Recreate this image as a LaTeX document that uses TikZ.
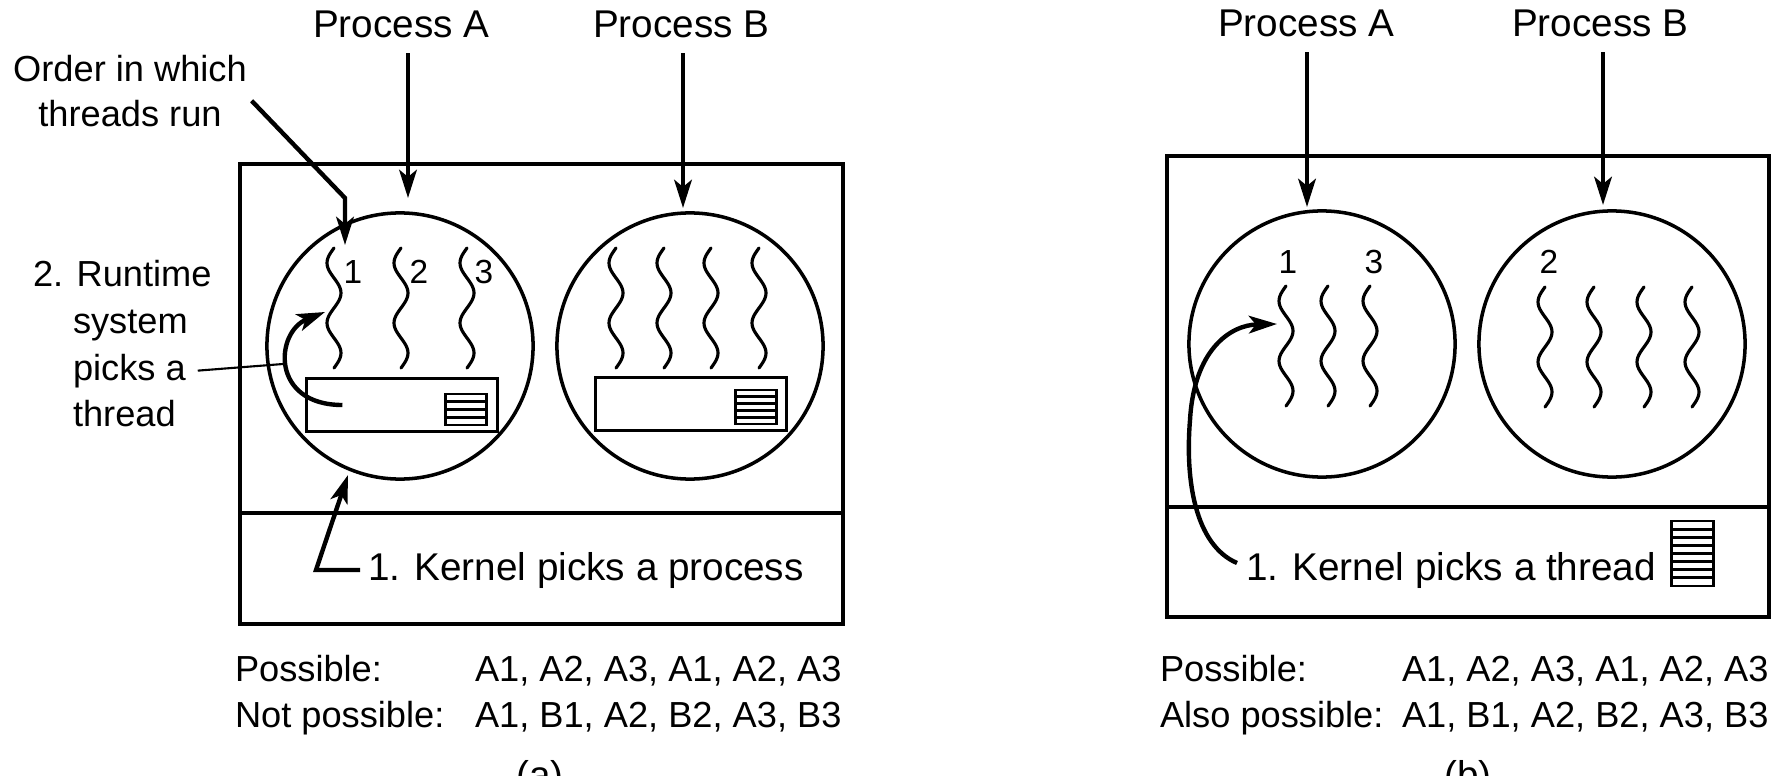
\documentclass[tikz,border=0pt]{standalone}
\usepackage{fontspec}
\setmainfont{Liberation Sans}
\usetikzlibrary{arrows.meta,calc}
\newcommand\fsBig{\fontsize{11pt}{13pt}\selectfont}
\newcommand\fsMid{\fontsize{10.3pt}{12.5pt}\selectfont}
\newcommand\fsNum{\fontsize{9.5pt}{11pt}\selectfont}
\newcommand\drawthread[2]{\draw[thr] plot[domain=0:120,samples=49,smooth] ({#1-7*sin(6*\x)},{#2+\x});}
\begin{document}
\begin{tikzpicture}[x=0.01cm,y=-0.01cm,
  txt/.style={inner sep=0pt, outer sep=0pt, font=\fsBig},
  mid/.style={inner sep=0pt, outer sep=0pt, font=\fsMid},
  num/.style={inner sep=0pt, outer sep=0pt, font=\fsNum, anchor=base},
  proc/.style={circle, draw, line width=1pt, minimum size=2.66cm, inner sep=0pt, outer sep=0pt},
  frame/.style={draw, line width=0.95pt},
  rts/.style={draw, line width=0.95pt, minimum width=1.91cm, minimum height=0.53cm, inner sep=0pt, outer sep=0pt},
  icon/.style={line width=0.85pt},
  arr/.style={line width=1.25pt, -{Stealth[length=8pt,width=5pt,inset=2pt]}},
  thr/.style={line width=0.9pt, line cap=round},
  pointer/.style={line width=0.6pt},
]
\useasboundingbox (0,0) rectangle (1788,776);

% ================= (a) =================
\draw[frame] (240,164) rectangle (843,624);
\draw[frame] (240,513) -- (843,513);
\node[proc] (cA1) at (400,346) {};
\node[proc] (cB1) at (690,346) {};
\node[rts] (bxA1) at (402,405) {};
\node[rts] (bxB1) at (691,404) {};
% run-time tables
\draw[icon] (445,394) rectangle (486,425);
\foreach \k in {1,2,3} \draw[icon] (445,{394+\k*31/4}) -- (486,{394+\k*31/4});
\draw[icon] (735,390) rectangle (776,424);
\foreach \k in {1,2,3,4} \draw[icon] (735,{390+\k*34/5}) -- (776,{390+\k*34/5});
% threads
\foreach \xc in {334,401,467} {\drawthread{\xc}{248}}
\foreach \xc in {616,664,711,759} {\drawthread{\xc}{248}}
\node[num] (na1) at (353,283) {1};
\node[num] (na2) at (419,283) {2};
\node[num] (na3) at (484,283) {3};
% process labels
\node[txt, anchor=base west] (pa1) at (313,38) {Process A};
\node[txt, anchor=base west] (pb1) at (593,38) {Process B};
\coordinate (tA1) at (408,198);
\coordinate (tB1) at (683,208);
\draw[arr, shorten <=0.15cm] (pa1.south -| tA1) -- (tA1);
\draw[arr, shorten <=0.15cm] (pb1.south -| tB1) -- (tB1);
% order label
\node[mid, anchor=base] (ord1) at (130,82) {Order in which};
\node[mid, anchor=base] (ord2) at (130,127) {threads run};
\coordinate (ordK) at (345,198);
\coordinate (ordT) at (345,245);
\draw[arr] ([xshift=0.3cm]ord2.north east) -- (ordK) -- (ordT);
% runtime label
\node[mid, anchor=base west] (rt1) at (33,287) {2. Runtime};
\node[mid, anchor=base west] (rt2) at (73,333) {system};
\node[mid, anchor=base west] (rt3) at (73,380) {picks a};
\node[mid, anchor=base west] (rt4) at (73,426) {thread};
\coordinate (rtT) at (325,312);
\coordinate (rtP) at (283,364);
\draw[arr] ([xshift=0.36cm]bxA1.west) .. controls (270,405) and (275,332) .. (rtT);
\draw[pointer] ([xshift=0.12cm]rt3.east) -- (rtP);
% kernel label
\node[txt, anchor=base west] (kp1) at (368,580) {1. Kernel picks a process};
\coordinate (kt1) at (348,475);
\draw[arr] ([xshift=-0.08cm]kp1.west) -- ++(-44,0) -- (kt1);
% bottom text
\node[mid, anchor=base west] (posA) at (235,681) {Possible:};
\node[mid, anchor=base west] (seqA1) at (475,681) {A1, A2, A3, A1, A2, A3};
\node[mid, anchor=base west] (npA) at (235,727) {Not possible:};
\node[mid, anchor=base west] (seqA2) at (475,727) {A1, B1, A2, B2, A3, B3};
\node[txt, anchor=base] (capa) at (540,788) {(a)};

% ================= (b) =================
\draw[frame] (1167,156) rectangle (1769,617);
\draw[frame] (1167,507) -- (1769,507);
\node[proc] (cA2) at (1322,344) {};
\node[proc] (cB2) at (1612,344) {};
\foreach \xc in {1286,1328,1370} {\drawthread{\xc}{286}}
\foreach \xc in {1545,1594,1644,1692} {\drawthread{\xc}{287}}
\node[num] (nb1) at (1288,273) {1};
\node[num] (nb3) at (1374,273) {3};
\node[num] (nb2) at (1549,273) {2};
\node[txt, anchor=base west] (pa2) at (1218,37) {Process A};
\node[txt, anchor=base west] (pb2) at (1512,37) {Process B};
\coordinate (tA2) at (1307,207);
\coordinate (tB2) at (1603,205);
\draw[arr, shorten <=0.15cm] (pa2.south -| tA2) -- (tA2);
\draw[arr, shorten <=0.15cm] (pb2.south -| tB2) -- (tB2);
% kernel thread table
\draw[icon] (1671,521) rectangle (1713,586);
\foreach \k in {1,...,7} \draw[icon] (1671,{521+\k*65/8}) -- (1713,{521+\k*65/8});
\node[txt, anchor=base west] (kp2) at (1246,580) {1. Kernel picks a thread};
\coordinate (tk2) at (1277,324);
\draw[arr] ($(kp2.west)+(-9,-7)$) .. controls (1195,545) and (1185,480) .. (1190,420)
  .. controls (1194,350) and (1230,325) .. (tk2);
% bottom text
\node[mid, anchor=base west] (posB) at (1160,681) {Possible:};
\node[mid, anchor=base west] (seqB1) at (1402,681) {A1, A2, A3, A1, A2, A3};
\node[mid, anchor=base west] (apB) at (1160,727) {Also possible:};
\node[mid, anchor=base west] (seqB2) at (1402,727) {A1, B1, A2, B2, A3, B3};
\node[txt, anchor=base] (capb) at (1468,788) {(b)};
\end{tikzpicture}
\end{document}
